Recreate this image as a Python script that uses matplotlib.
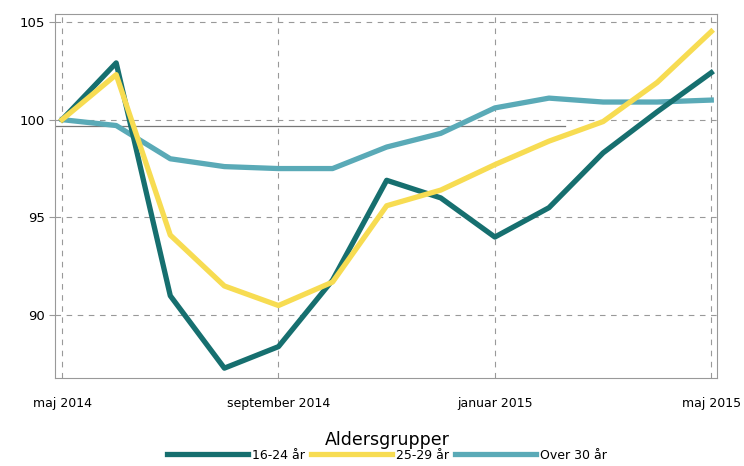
import matplotlib.pyplot as plt

# Monthly index, maj 2014 -> maj 2015
months = ['maj 2014', 'jun', 'jul', 'aug', 'september 2014', 'okt', 'nov', 'dec',
          'januar 2015', 'feb', 'mar', 'apr', 'maj 2015']
tick_pos = [0, 4, 8, 12]
tick_labels = ['maj 2014', 'september 2014', 'januar 2015', 'maj 2015']

age_16_24 = [100, 102.9, 91.0, 87.3, 88.4, 91.8, 96.9, 96.0, 94.0, 95.5, 98.3, 100.4, 102.4]
age_25_29 = [100, 102.3, 94.1, 91.5, 90.5, 91.7, 95.6, 96.4, 97.7, 98.9, 99.9, 101.9, 104.5]
age_over30 = [100, 99.7, 98.0, 97.6, 97.5, 97.5, 98.6, 99.3, 100.6, 101.1, 100.9, 100.9, 101.0]

x = list(range(len(months)))

fig = plt.figure(figsize=(7.44, 4.66), dpi=100)
ax = fig.add_axes([0.074, 0.189, 0.89, 0.781])

ax.grid(True, linestyle=(0, (5, 5)), color='#999999', linewidth=0.8)
ax.set_axisbelow(True)

# faint reference line near 100 (as in the scan)
ax.plot([-0.13, 9.3], [99.65, 99.65], color='#777777', linewidth=0.9, zorder=1)

ax.plot(x, age_16_24, color='#166f6f', linewidth=3.8, label='16-24 år', zorder=3)
ax.plot(x, age_25_29, color='#f7dc52', linewidth=3.8, label='25-29 år', zorder=3)
ax.plot(x, age_over30, color='#5aaab7', linewidth=3.8, label='Over 30 år', zorder=2)

ax.set_xlim(-0.13, 12.11)
ax.set_ylim(86.8, 105.4)
ax.set_xticks(tick_pos)
ax.set_xticklabels(tick_labels, fontsize=9)
ax.set_yticks([90, 95, 100, 105])
ax.set_yticklabels(['90', '95', '100', '105'], fontsize=9.5)
ax.tick_params(axis='x', length=0, pad=14)
ax.tick_params(axis='y', length=4, color='#999999')
for s in ax.spines.values():
    s.set_color('#999999')
    s.set_linewidth(0.8)

leg = fig.legend(loc='lower center', bbox_to_anchor=(0.52, -0.015), ncol=3,
                 frameon=False, fontsize=9, handlelength=6.5, columnspacing=0.5,
                 handletextpad=0.3, title='Aldersgrupper', title_fontsize=12.5)
leg._legend_box.sep = 0

plt.savefig('out.png', dpi=100)
